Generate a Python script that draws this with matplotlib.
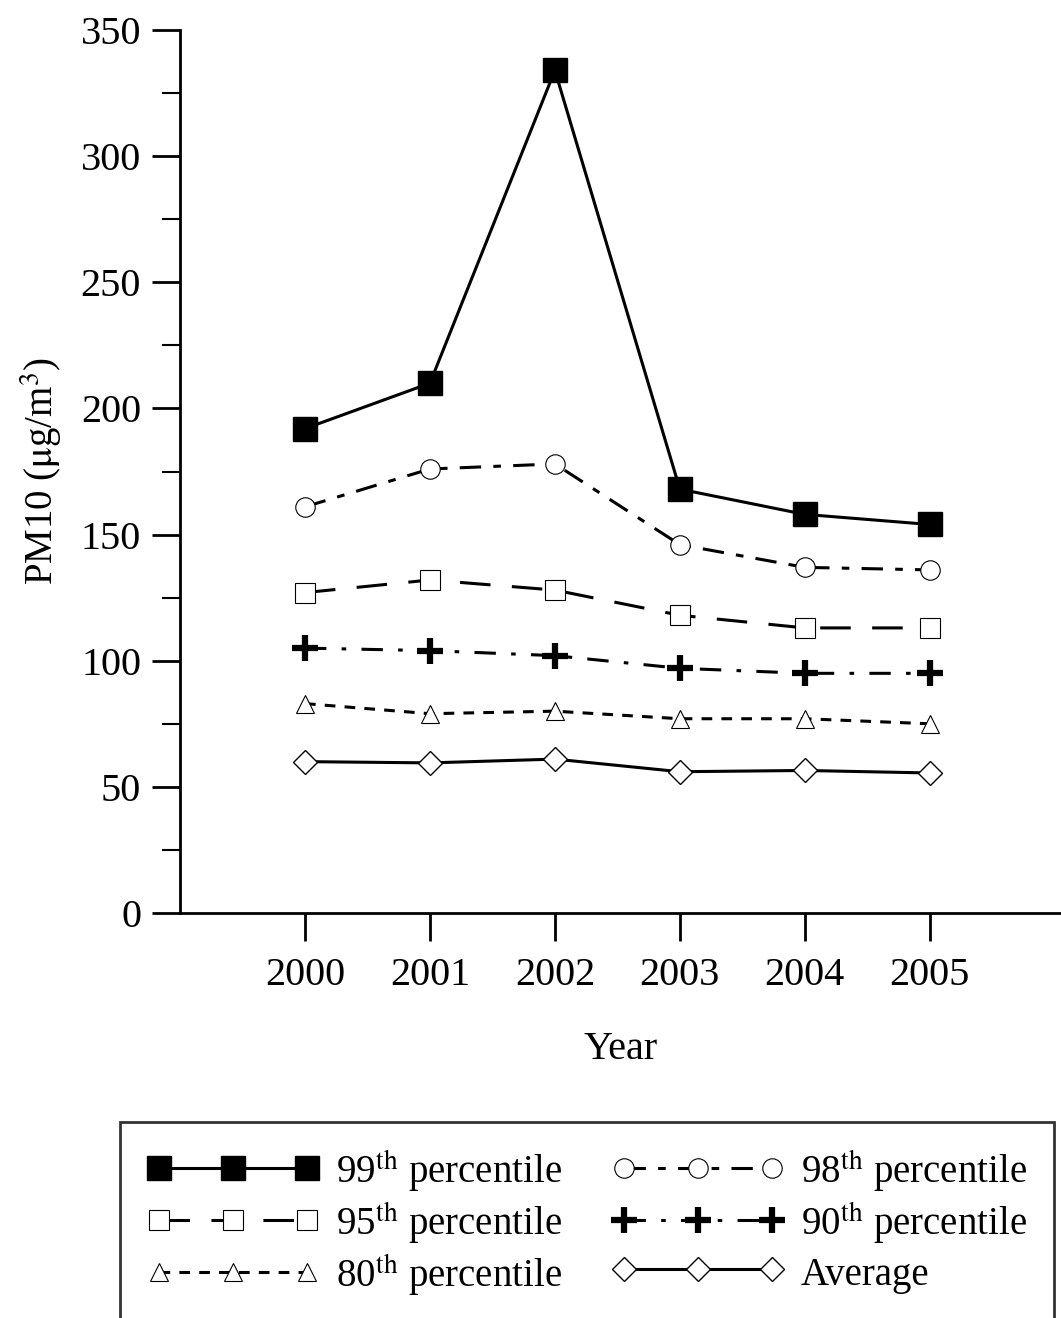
import matplotlib
matplotlib.use("Agg")
import matplotlib.pyplot as plt
from matplotlib.ticker import MultipleLocator

plt.rcParams['font.family'] = ['Liberation Serif', 'DejaVu Serif']
plt.rcParams['mathtext.fontset'] = 'stix'

years = [2000, 2001, 2002, 2003, 2004, 2005]
p99 = [192, 210, 334, 168, 158, 154]
p98 = [161, 176, 178, 146, 137, 136]
p95 = [127, 132, 128, 118, 113, 113]
p90 = [105, 104, 102, 97, 95, 95]
p80 = [83, 79, 80, 77, 77, 75]
avg = [60, 59.5, 61, 56, 56.5, 55.5]

fig = plt.figure(figsize=(10.61, 13.18), dpi=100)
ax = fig.add_axes([180 / 1061, 1 - 913 / 1318, 1 - 180 / 1061, (913 - 30) / 1318])

lw = 2.2
ax.plot(years, p99, color='black', lw=lw, ls='-', marker='s', ms=17,
        mfc='black', mec='black', label=r'99$^{\mathrm{th}}$ percentile')
ax.plot(years, p98, color='black', lw=lw, ls=(0, (7, 4, 2.5, 4)), marker='o', ms=14,
        mfc='white', mec='black', mew=0.8, label=r'98$^{\mathrm{th}}$ percentile')
ax.plot(years, p95, color='black', lw=lw, ls=(0, (10, 7)), marker='s', ms=15,
        mfc='white', mec='black', mew=0.8, label=r'95$^{\mathrm{th}}$ percentile')
ax.plot(years, p90, color='black', lw=lw, ls=(0, (7, 5, 1.5, 5)), marker='+', ms=19,
        mfc='black', mec='black', mew=4.5, label=r'90$^{\mathrm{th}}$ percentile')
ax.plot(years, p80, color='black', lw=lw, ls=(0, (3.5, 3)), marker='^', ms=13,
        mfc='white', mec='black', mew=0.8, label=r'80$^{\mathrm{th}}$ percentile')
ax.plot(years, avg, color='black', lw=lw, ls='-', marker='D', ms=12,
        mfc='white', mec='black', mew=1.0, label='Average')

ax.set_xlim(1999.0, 2006.05)
ax.set_ylim(0, 350)
ax.set_xticks(years)
ax.set_xticklabels([str(y) for y in years])
ax.yaxis.set_major_locator(MultipleLocator(50))
ax.yaxis.set_minor_locator(MultipleLocator(25))
ax.spines['top'].set_visible(False)
ax.spines['right'].set_visible(False)
ax.spines['left'].set_linewidth(2)
ax.spines['bottom'].set_linewidth(2)
ax.tick_params(axis='both', which='major', direction='out', width=2, length=20,
               labelsize=29, pad=8)
ax.tick_params(axis='y', which='minor', direction='out', width=1.5, length=13)
ax.tick_params(axis='x', which='major', pad=12)

ax.set_ylabel(r'PM10 ($\mathrm{\mu}$g/m$^{3}$)', fontsize=28, labelpad=12)
ax.set_xlabel('Year', fontsize=29, labelpad=26)

# legend rows: 99/98, 95/90, 80/avg
handles, labels = ax.get_legend_handles_labels()
order = [0, 2, 4, 1, 3, 5]
leg = fig.legend([handles[i] for i in order], [labels[i] for i in order],
                 loc='upper left', bbox_to_anchor=(120 / 1061, 1 - 1122 / 1318),
                 borderaxespad=0, ncol=2, fontsize=28, frameon=True, fancybox=False,
                 edgecolor='black', numpoints=3, handlelength=4.4, handleheight=1.15,
                 columnspacing=1.3, handletextpad=0.45, labelspacing=0.15,
                 borderpad=0.7)
leg.get_frame().set_linewidth(2)

fig.savefig('out.png', dpi=100)
